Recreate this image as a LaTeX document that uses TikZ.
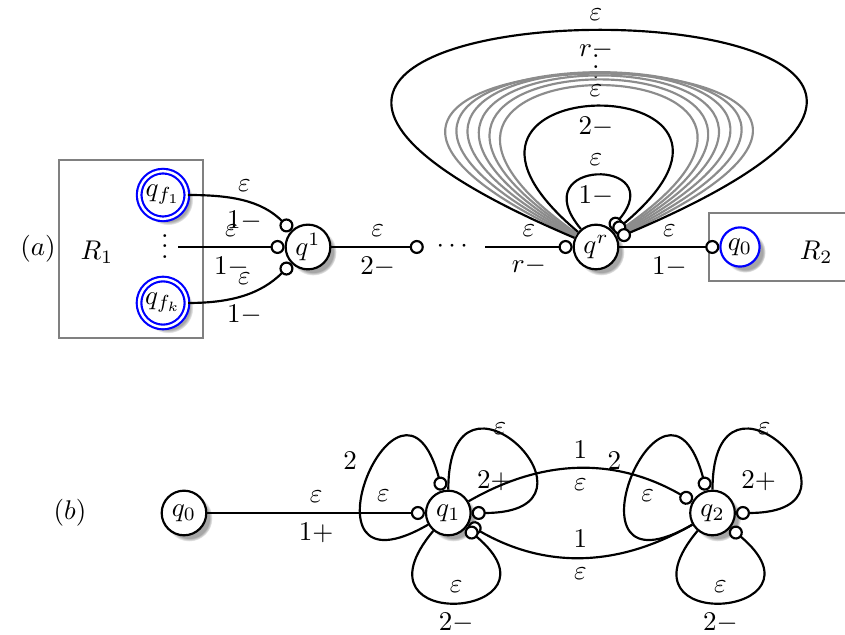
\documentclass[tikz,border=0pt]{standalone}
\usepackage{amsmath, amssymb}
\usepackage{tikz}
\usetikzlibrary{calc, positioning, arrows.meta, shadows}
\usepackage{xcolor}
\definecolor{accBlue}{RGB}{0, 0, 255}
\definecolor{boxGray}{RGB}{128, 128, 128}
\definecolor{loopGray}{RGB}{140, 140, 140}

\tikzset{
  stnode/.style={circle, draw, thick, fill=white, minimum size=0.58cm, inner sep=1pt,
    circular drop shadow={shadow scale=1.05, shadow xshift=1.8pt, shadow yshift=-1.8pt,
      opacity=.7}},
  accnode/.style={stnode, draw=accBlue, double, double distance=0.9pt, minimum size=0.62cm},
  initnode/.style={stnode, draw=accBlue, minimum size=0.51cm},
  tipc/.style={thick, -{Circle[length=5.2pt, fill=white]}},
  regbox/.style={draw=boxGray, thick},
}

\begin{document}
\begin{tikzpicture}
  \useasboundingbox (0,0) rectangle (10.985,8.255);

  % (a): the two regions
  \draw[regbox] (0.767,3.861) rectangle (2.639,6.175);
  \draw[regbox] (10.985,5.486) -| (9.217,4.602) -- (10.985,4.602);
  \node (la) at (0.494,5.02) {$(a)$};
  \node (r1) at (1.26,4.98) {$R_1$};
  \node (r2) at (10.61,4.98) {$R_2$};

  % states of (a)
  \node[accnode] (qf1) at (2.119,5.72) {$q_{f_1}$};
  \node[accnode] (qfk) at (2.119,4.316) {$q_{f_k}$};
  \node (vd) at (2.145,5.155) {$\vdots$};
  \node[stnode] (q1) at (4.004,5.044) {$q^1$};
  \node[inner xsep=4.5pt] (cd) at (5.909,5.044) {$\cdots$};
  \node[stnode] (qr) at (7.748,5.044) {$q^r$};
  \node[initnode] (q0a) at (9.62,5.044) {$q_0$};
  \node (vdr) at ($(qr)+(0,2.45)$) {$\vdots$};

  % edges into q^1
  \draw[tipc] (qf1) to[out=0, in=135]
    node[above] {$\varepsilon$} node[below] {$1-$} (q1);
  \draw[tipc] (vd.east |- q1) --
    node[above] {$\varepsilon$} node[below] {$1-$} (q1);
  \draw[tipc] (qfk) to[out=0, in=-135]
    node[above] {$\varepsilon$} node[below] {$1-$} (q1);

  % the chain q^1 ... q^r -> q_0
  \draw[tipc] (q1) -- node[above] {$\varepsilon$} node[below] {$2-$} (cd);
  \draw[tipc] (cd) -- node[above] {$\varepsilon$} node[below] {$r-$} (qr);
  \draw[tipc] (qr) -- node[above] {$\varepsilon$} node[below] {$1-$} (q0a);

  % loops on q^r
  \foreach \a/\b/\l in {145/35/4.46, 147/33/4.90, 149/31/5.34,
                        151/29/5.80, 153/27/6.24, 155/25/6.68} {
    \draw[tipc, loopGray] (qr.\a) .. controls +(\a:\l) and +(\b:\l) .. (qr.\b);
  }
  \draw[tipc] (qr.130) .. controls +(130:1.21) and +(50:1.21) .. (qr.50)
    node[pos=.5, below] {$1-$} node[pos=.5, above] {$\varepsilon$};
  \draw[tipc] (qr.140) .. controls +(140:3.38) and +(40:3.38) .. (qr.40)
    node[pos=.5, below] {$2-$} node[pos=.5, above] {$\varepsilon$};
  \draw[tipc] (qr.157) .. controls +(157:9.2) and +(23:9.2) .. (qr.23)
    node[pos=.5, below] {$r-$} node[pos=.5, above] {$\varepsilon$};

  % (b)
  \node (lb) at (0.91,1.586) {$(b)$};
  \node[stnode] (bq0) at (2.392,1.586) {$q_0$};
  \node[stnode] (bq1) at (5.828,1.586) {$q_1$};
  \node[stnode] (bq2) at (9.263,1.586) {$q_2$};

  \draw[tipc] (bq0) -- node[above] {$\varepsilon$} node[below] {$1+$} (bq1);
  \draw[tipc] (bq1) to[out=30, in=150]
    node[above] {$1$} node[below] {$\varepsilon$} (bq2);
  \draw[tipc] (bq2) to[out=-150, in=-30]
    node[above] {$1$} node[below] {$\varepsilon$} (bq1);

  % three loops on q_1 and q_2
  \foreach \n in {bq1,bq2} {
    \draw[tipc] (\n.210) .. controls +(210:2.1) and +(105:2.1) .. (\n.105)
      node[pos=.5, below right] {$\varepsilon$} node[pos=.5, above left] {$2$};
    \draw[tipc] (\n.90) .. controls +(90:1.95) and +(0:1.95) .. (\n.0)
      node[pos=.5, above left] {$\varepsilon$}
      node[pos=.5, below left=6pt and -2pt] {$2+$};
    \draw[tipc] (\n.230) .. controls +(230:1.8) and +(320:1.8) .. (\n.320)
      node[pos=.5, above] {$\varepsilon$} node[pos=.5, below] {$2-$};
  }
\end{tikzpicture}
\end{document}
